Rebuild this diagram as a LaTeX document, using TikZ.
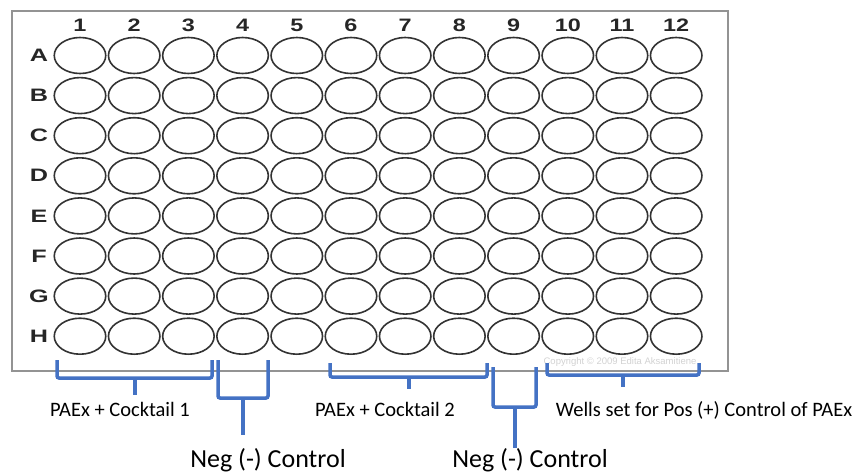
\documentclass[tikz,border=0pt]{standalone}
\usepackage{fontspec}
\setmainfont{Carlito}
\newfontfamily\platefont{Liberation Sans}
\usetikzlibrary{shapes.geometric}
\definecolor{bracecol}{HTML}{4472C4}

\begin{document}
\begin{tikzpicture}[
    x=1pt, y=-1pt,
    well/.style={ellipse, draw=black!80, line width=1.6pt, minimum width=51.5pt, minimum height=36pt, inner sep=0pt},
    platelabel/.style={font=\platefont\bfseries\fontsize{18}{18}\selectfont, text=black!85},
    bracket/.style={draw=bracecol, line width=3.5pt, rounded corners=2pt},
    note/.style={font=\fontsize{20.5}{24}\selectfont, anchor=base},
    bignote/.style={font=\fontsize{26}{30}\selectfont, anchor=base}
]
\useasboundingbox (0,0) rectangle (862,474);

% Plate outline
\draw[gray!85, line width=2.6pt] (12,11) rectangle (728,371);

% Column numbers
\foreach \c in {1,...,12}
  \node[platelabel] at (80+54.2*\c-54.2,25) (col-\c) {\scalebox{1.3}[1]{\c}};

% Rows of wells
\foreach \r [count=\i from 0] in {A,B,C,D,E,F,G,H} {
  \node[platelabel] at (39,55.5+40.1*\i) (row-\r) {\scalebox{1.4}[1]{\r}};
  \foreach \c in {1,...,12}
    \node[well] at (80+54.2*\c-54.2,55.5+40.1*\i) (well-\r\c) {};
}

% Copyright line
\node[font=\platefont\fontsize{9.5}{10}\selectfont, text=gray!35] at (620,362) (copy) {Copyright © 2009 Edita Aksamitiene};

% Brackets under the plate
\draw[bracket] (57,360) -- (57,378) -- (212,378) -- (212,360);
\draw[bracket] (135,378) -- (135,395);
\draw[bracket] (218,360) -- (218,398) -- (268,398) -- (268,360);
\draw[bracket] (243,398) -- (243,435);
\draw[bracket] (330,363) -- (330,377) -- (487,377) -- (487,363);
\draw[bracket] (409,377) -- (409,389);
\draw[bracket] (493,367) -- (493,407) -- (536,407) -- (536,367);
\draw[bracket] (515,407) -- (515,448);
\draw[bracket] (547,363) -- (547,375) -- (699,375) -- (699,363);
\draw[bracket] (623,375) -- (623,387);

% Labels
\node[note] at (120,416) (cocktail1) {PAEx + Cocktail 1};
\node[note] at (385,416) (cocktail2) {PAEx + Cocktail 2};
\node[note] at (704,416) (pos) {Wells set for Pos (+) Control of PAEx};
\node[bignote] at (268,467) (neg1) {Neg (-) Control};
\node[bignote] at (530,467) (neg2) {Neg (-) Control};

\end{tikzpicture}
\end{document}
